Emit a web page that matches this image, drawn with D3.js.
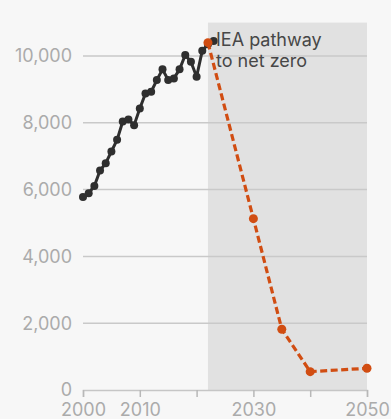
<!DOCTYPE html>
<html><head><meta charset="utf-8">
<script src="https://cdn.jsdelivr.net/npm/d3@7"></script>
<style>
html,body{margin:0;padding:0;background:#f7f7f7;}
svg{display:block;font-family:Inter, "Open Sans", sans-serif;}
</style></head>
<body>
<svg id="c" width="391" height="419"></svg>
<script>
const histYears = [2000,2001,2002,2003,2004,2005,2006,2007,2008,2009,2010,2011,2012,2013,2014,2015,2016,2017,2018,2019,2020,2021,2022,2023];
const histValues = [5780,5890,6110,6570,6790,7140,7490,8040,8100,7930,8430,8880,8930,9280,9600,9280,9330,9600,10030,9830,9380,10160,10350,10450];
const ieaYears = [2022,2030,2035,2040,2050];
const ieaValues = [10400,5130,1820,550,650];
const yTicks = [0,2000,4000,6000,8000,10000];
const xTicks = [2000,2010,2020,2030,2040,2050];
const xTickLabels = ["2000","2010","","2030","","2050"];
const shadeStart = 2022, shadeTop = 11000;
const annotation = ["IEA pathway","to net zero"];

const svg = d3.select("#c");
const x = d3.scaleLinear().domain([2000,2050]).range([83,367]);
const y = d3.scaleLinear().domain([0,10000]).range([390,56]);

svg.append("rect").attr("x",x(shadeStart)).attr("y",y(shadeTop))
  .attr("width",x(2050)-x(shadeStart)).attr("height",y(0)-y(shadeTop)).attr("fill","#e1e1e1");

// grid
svg.append("g").selectAll("line").data(yTicks.filter(d=>d>0)).join("line")
  .attr("x1",x(2000)).attr("x2",x(2050)).attr("y1",d=>y(d)).attr("y2",d=>y(d))
  .attr("stroke","#c9c9c9").attr("stroke-width",1.5);

// y labels
svg.append("g").selectAll("text").data(yTicks).join("text")
  .attr("x",72).attr("y",d=>y(d)).attr("dy","0.35em").attr("text-anchor","end")
  .attr("font-size",18).attr("fill","#ababab").text(d=>d3.format(",")(d));

// x axis
const xa = svg.append("g").attr("transform",`translate(0,${y(0)})`)
  .call(d3.axisBottom(x).tickValues(xTicks).tickFormat((d,i)=>xTickLabels[i]).tickSize(7).tickPadding(6));
xa.select(".domain").attr("stroke","#c6c6c6").attr("stroke-width",1.5);
xa.selectAll(".tick line").attr("stroke","#b8b8b8").attr("stroke-width",1.5);
xa.selectAll(".tick text").attr("fill","#ababab").attr("font-size",18).attr("font-family","Inter, 'Open Sans', sans-serif");

// historical
const line = d3.line().x(d=>x(d[0])).y(d=>y(d[1]));
const hist = histYears.map((d,i)=>[d,histValues[i]]);
svg.append("path").datum(hist).attr("d",line).attr("fill","none").attr("stroke","#2f2f2f").attr("stroke-width",3).attr("stroke-linejoin","round");
svg.append("g").selectAll("circle").data(hist).join("circle")
  .attr("cx",d=>x(d[0])).attr("cy",d=>y(d[1])).attr("r",4).attr("fill","#2f2f2f");

// IEA
const iea = ieaYears.map((d,i)=>[d,ieaValues[i]]);
svg.append("path").datum(iea).attr("d",line).attr("fill","none").attr("stroke","#d14d12").attr("stroke-width",3.2).attr("stroke-dasharray","7,3.5");
svg.append("g").selectAll("circle").data(iea).join("circle")
  .attr("cx",d=>x(d[0])).attr("cy",d=>y(d[1])).attr("r",4.5).attr("fill","#d14d12");

// annotation
svg.append("g").selectAll("text").data(annotation).join("text")
  .attr("x",216).attr("y",(d,i)=>46+i*21).attr("font-size",18).attr("fill","#474747").text(d=>d);
</script>
</body></html>
